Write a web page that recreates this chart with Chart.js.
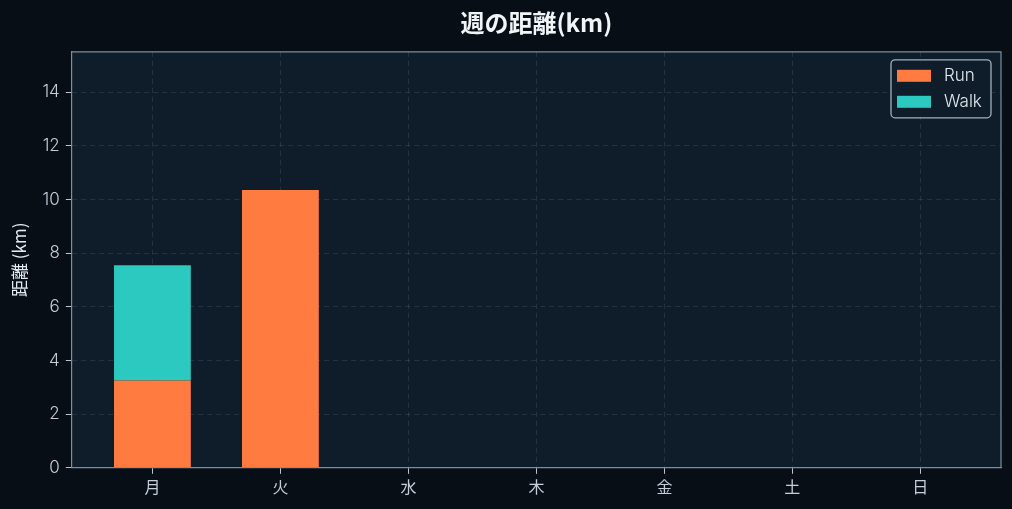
<!DOCTYPE html>
<html>
<head>
<meta charset="utf-8">
<script src="https://cdn.jsdelivr.net/npm/chart.js@4.4.1/dist/chart.umd.min.js"></script>
<style>
  html, body { margin: 0; padding: 0; background: #070e16; }
  #wrap { width: 1012px; height: 509px; }
</style>
</head>
<body>
<div id="wrap"><canvas id="chart"></canvas></div>
<script>
  // data
  const days = ["月", "火", "水", "木", "金", "土", "日"];
  const runKm = [3.25, 10.35, 0, 0, 0, 0, 0];
  const walkKm = [4.3, 0, 0, 0, 0, 0, 0];
  const yTicks = [0, 2, 4, 6, 8, 10, 12, 14];
  const yMax = 15.5;
  const xMargin = 0.63; // empty space left/right of the first/last day, in day units

  const FONT = "'Noto Sans CJK JP', 'Noto Sans', sans-serif";
  const TICK_FONT = "Inter, 'Noto Sans CJK JP', sans-serif";
  const textColor = "#c3cfda";
  const gridColor = "rgba(140,165,190,0.16)";
  const axisColor = "#7d8d9c";

  const toPoints = arr => arr.map((v, i) => ({ x: i, y: v }));

  // plot background + top/right frame
  const plotFrame = {
    id: "plotFrame",
    beforeDraw(chart) {
      const { ctx, chartArea: a } = chart;
      ctx.save();
      ctx.fillStyle = "#0f1d2a";
      ctx.fillRect(a.left, a.top, a.right - a.left, a.bottom - a.top);
      ctx.restore();
    },
    afterDraw(chart) {
      const { ctx, chartArea: a } = chart;
      ctx.save();
      ctx.strokeStyle = axisColor;
      ctx.lineWidth = 1.2;
      ctx.beginPath();
      ctx.moveTo(a.left, a.top);
      ctx.lineTo(a.right, a.top);
      ctx.lineTo(a.right, a.bottom);
      ctx.stroke();
      ctx.restore();
    }
  };

  // boxed legend in the top-right corner of the plot
  const boxLegend = {
    id: "boxLegend",
    afterDraw(chart) {
      const { ctx, chartArea: a } = chart;
      const w = 100, h = 58, rowH = 26;
      const x = a.right - 10 - w, y = a.top + 8;
      ctx.save();
      ctx.fillStyle = "rgba(15,29,42,0.85)";
      ctx.strokeStyle = "#9fb0be";
      ctx.lineWidth = 1.3;
      ctx.beginPath();
      ctx.roundRect(x, y, w, h, 4);
      ctx.fill();
      ctx.stroke();
      ctx.font = "300 17px " + TICK_FONT;
      ctx.textBaseline = "middle";
      chart.data.datasets.forEach((ds, i) => {
        const cy = y + 16 + i * rowH;
        ctx.fillStyle = ds.backgroundColor;
        ctx.fillRect(x + 6, cy - 6, 34, 12);
        ctx.fillStyle = "#e4ebf1";
        ctx.fillText(ds.label, x + 53, cy);
      });
      ctx.restore();
    }
  };

  new Chart(document.getElementById("chart"), {
    type: "bar",
    data: {
      datasets: [
        { label: "Run", data: toPoints(runKm), backgroundColor: "#ff7b3f", borderWidth: 0 },
        { label: "Walk", data: toPoints(walkKm), backgroundColor: "#2cc9c0", borderWidth: 0 }
      ]
    },
    options: {
      responsive: true,
      maintainAspectRatio: false,
      animation: false,
      layout: { padding: { left: 6, right: 11, top: 0, bottom: 8 } },
      datasets: { bar: { categoryPercentage: 1, barPercentage: 0.6 } },
      plugins: {
        legend: { display: false },
        tooltip: { enabled: false },
        title: {
          display: true,
          fullSize: false,
          text: "週の距離(km)",
          color: "#f2f5f8",
          font: { family: FONT, size: 24, weight: "bold" },
          padding: { top: 8, bottom: 15 }
        }
      },
      scales: {
        x: {
          type: "linear",
          stacked: true,
          offset: false,
          min: -xMargin,
          max: days.length - 1 + xMargin,
          afterBuildTicks: axis => { axis.ticks = days.map((d, i) => ({ value: i })); },
          grid: { color: gridColor, offset: false, tickColor: "#b8c6d2", tickLength: 6 },
          border: { color: axisColor, width: 1.2, dash: [5, 4] },
          ticks: {
            color: textColor,
            font: { family: FONT, size: 16 },
            padding: 4,
            callback: v => days[v]
          }
        },
        y: {
          stacked: true,
          min: 0,
          max: yMax,
          afterBuildTicks: axis => { axis.ticks = yTicks.map(v => ({ value: v })); },
          grid: { color: gridColor, tickColor: "#b8c6d2", tickLength: 6 },
          border: { color: axisColor, width: 1.2, dash: [5, 4] },
          ticks: { color: textColor, font: { family: TICK_FONT, size: 17, weight: 300 }, padding: 6 },
          title: {
            display: true,
            text: "距離 (km)",
            color: "#e4ebf1",
            font: { family: FONT, size: 17 },
            padding: { top: 3, bottom: 7 }
          }
        }
      }
    },
    plugins: [plotFrame, boxLegend]
  });
</script>
</body>
</html>
